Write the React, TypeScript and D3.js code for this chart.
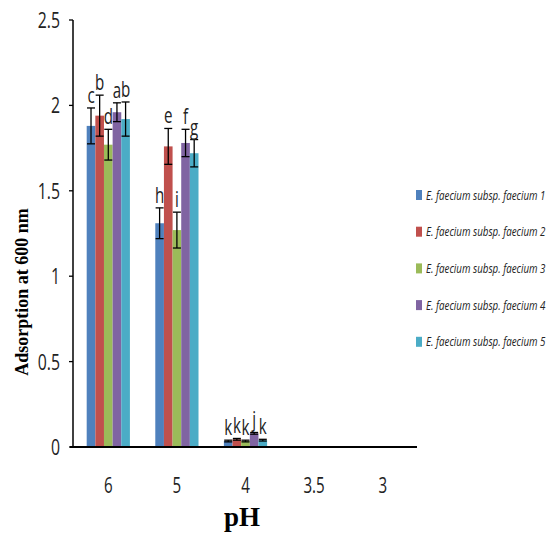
import React from "react";
import * as d3 from "d3";

const categories = ["6", "5", "4", "3.5", "3"];
const seriesNames = [
  "E. faecium subsp. faecium 1",
  "E. faecium subsp. faecium 2",
  "E. faecium subsp. faecium 3",
  "E. faecium subsp. faecium 4",
  "E. faecium subsp. faecium 5",
];
const colors = ["#4F81BD", "#C0504D", "#9BBB59", "#8064A2", "#4BACC6"];
// values per series, per category (6, 5, 4, 3.5, 3)
const values = [
  [1.88, 1.31, 0.035, 0, 0],
  [1.94, 1.76, 0.045, 0, 0],
  [1.77, 1.27, 0.035, 0, 0],
  [1.96, 1.78, 0.08, 0, 0],
  [1.92, 1.72, 0.04, 0, 0],
];
const errors = [
  [0.105, 0.09, 0.005, 0, 0],
  [0.12, 0.105, 0.005, 0, 0],
  [0.09, 0.105, 0.005, 0, 0],
  [0.055, 0.08, 0.005, 0, 0],
  [0.1, 0.08, 0.005, 0, 0],
];
const letters = [
  ["c", "h", "k", "", ""],
  ["b", "e", "k", "", ""],
  ["d", "i", "k", "", ""],
  ["a", "f", "j", "", ""],
  ["b", "g", "k", "", ""],
];
const yTicks = [0, 0.5, 1, 1.5, 2, 2.5];

const W = 553;
const H = 533;
const left = 73;
const right = 417;
const top = 20;
const bottom = 447;
const sans = "'Open Sans', 'Noto Sans', sans-serif";
const serif = "'Liberation Serif', 'Times New Roman', serif";
const SX = 0.72;

function NText(props: { x: number; y: number; size: number; anchor?: string; sx?: number; italic?: boolean; children: React.ReactNode }) {
  return (
    <text
      transform={`translate(${props.x},${props.y}) scale(${props.sx ?? SX},1)`}
      textAnchor={props.anchor || "middle"}
      fontFamily={sans}
      fontStyle={props.italic ? "italic" : "normal"}
      fontSize={props.size}
      fill="#222"
    >
      {props.children}
    </text>
  );
}

export default function App() {
  const x = d3.scaleBand<string>().domain(categories).range([left + 1, right]).paddingInner(0.37).paddingOuter(0.185);
  const xs = d3.scaleBand<number>().domain(d3.range(seriesNames.length)).range([0, x.bandwidth()]).padding(0);
  const y = d3.scaleLinear().domain([0, 2.5]).range([bottom, top]);

  return (
    <svg width={W} height={H} style={{ position: "absolute", left: 0, top: 0, background: "#fff" }}>
      <rect width={W} height={H} fill="#fff" />
      {seriesNames.map((s, si) =>
        categories.map((c, ci) => {
          const v = values[si][ci];
          if (v <= 0) return null;
          const bx = (x(c) as number) + (xs(si) as number);
          return (
            <rect key={`b${si}-${ci}`} x={bx} y={y(v)} width={xs.bandwidth()} height={y(0) - y(v)} fill={colors[si]} />
          );
        })
      )}
      {seriesNames.map((s, si) =>
        categories.map((c, ci) => {
          const v = values[si][ci];
          const e = errors[si][ci];
          if (v <= 0) return null;
          const cx = (x(c) as number) + (xs(si) as number) + xs.bandwidth() / 2;
          const hw = 4;
          return (
            <g key={`e${si}-${ci}`} stroke="#000" strokeWidth={1.3}>
              <line x1={cx} x2={cx} y1={y(v + e)} y2={y(v - e)} />
              <line x1={cx - hw} x2={cx + hw} y1={y(v + e)} y2={y(v + e)} />
              <line x1={cx - hw} x2={cx + hw} y1={y(v - e)} y2={y(v - e)} />
            </g>
          );
        })
      )}
      {seriesNames.map((s, si) =>
        categories.map((c, ci) => {
          const l = letters[si][ci];
          if (!l) return null;
          const cx = (x(c) as number) + (xs(si) as number) + xs.bandwidth() / 2;
          return (
            <NText key={`l${si}-${ci}`} x={cx} y={y(values[si][ci] + errors[si][ci]) - 5} size={21}>{l}</NText>
          );
        })
      )}
      <line x1={left} x2={left} y1={top} y2={bottom} stroke="#000" strokeWidth={1.5} />
      {yTicks.map((t) => (
        <g key={`t${t}`}>
          <line x1={left - 4} x2={left} y1={y(t)} y2={y(t)} stroke="#000" strokeWidth={1.3} />
          <NText x={left - 13} y={y(t) + 8} size={22} anchor="end">{t}</NText>
        </g>
      ))}
      <line x1={left - 3} x2={right} y1={bottom} y2={bottom} stroke="#000" strokeWidth={2} />
      {categories.map((c) => (
        <NText key={`x${c}`} x={(x(c) as number) + x.bandwidth() / 2} y={493} size={21}>{c}</NText>
      ))}
      <text x={242} y={526} textAnchor="middle" fontFamily={serif} fontWeight="bold" fontSize={27} fill="#000">pH</text>
      <text transform={`translate(28,292) rotate(-90)`} textAnchor="middle" fontFamily={serif} fontWeight="bold" fontSize={18} fill="#000">Adsorption at 600 nm</text>
      {seriesNames.map((s, si) => {
        const ly = 195 + si * 36.7;
        return (
          <g key={`lg${si}`}>
            <rect x={416} y={ly - 5} width={6} height={10} fill={colors[si]} />
            <NText x={426} y={ly + 4.5} size={13} anchor="start" sx={0.75} italic>{s}</NText>
          </g>
        );
      })}
    </svg>
  );
}
